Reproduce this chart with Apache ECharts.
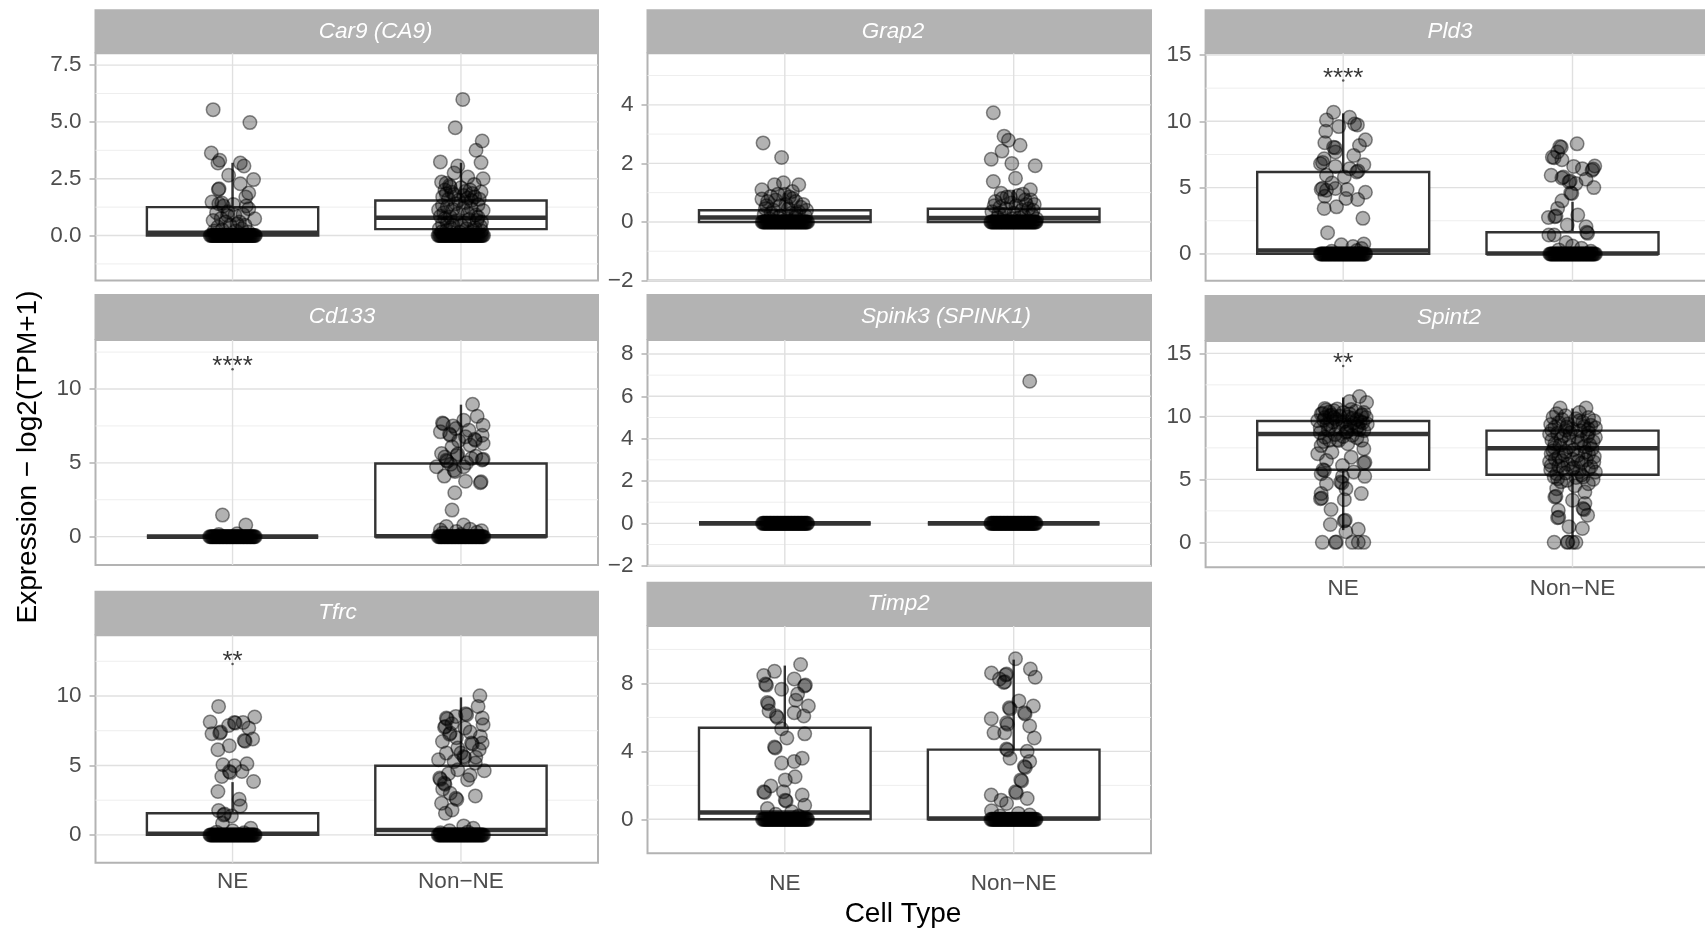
<!DOCTYPE html>
<html>
<head>
<meta charset="utf-8">
<title>Marker expression by cell type</title>
<script src="https://cdn.jsdelivr.net/npm/echarts@6/dist/echarts.min.js"></script>
<style>
  html, body { margin: 0; padding: 0; background: #ffffff; }
  #chart { width: 1705px; height: 930px; }
</style>
</head>
<body>
<div id="chart"></div>
<script>
// ---------------------------------------------------------------------------
// Data
// ---------------------------------------------------------------------------
const categories = ['NE', 'Non\u2212NE'];
const genes = ['Car9 (CA9)', 'Grap2', 'Pld3', 'Cd133', 'Spink3 (SPINK1)', 'Spint2', 'Tfrc', 'Timp2'];

// y-axis extents of each facet
const car9Range = [-1.98, 8.02];
const grap2Range = [-2, 5.76];
const pld3Range = [-2.03, 15.13];
const cd133Range = [-1.92, 13.32];
const spink3Range = [-2, 8.66];
const spint2Range = [-1.98, 15.98];
const tfrcRange = [-2, 14.37];
const timp2Range = [-2, 11.38];

// labelled (major) ticks, their labels, and minor grid positions
const car9Ticks = [0, 2.5, 5, 7.5];
const car9TickLabels = ['0.0', '2.5', '5.0', '7.5'];
const car9Minor = [-1.25, 1.25, 3.75, 6.25];
const grap2Ticks = [-2, 0, 2, 4];
const grap2TickLabels = ['\u22122', '0', '2', '4'];
const grap2Minor = [-1, 1, 3, 5];
const pld3Ticks = [0, 5, 10, 15];
const pld3TickLabels = ['0', '5', '10', '15'];
const pld3Minor = [2.5, 7.5, 12.5];
const cd133Ticks = [0, 5, 10];
const cd133TickLabels = ['0', '5', '10'];
const cd133Minor = [2.5, 7.5, 12.5];
const spink3Ticks = [-2, 0, 2, 4, 6, 8];
const spink3TickLabels = ['\u22122', '0', '2', '4', '6', '8'];
const spink3Minor = [-1, 1, 3, 5, 7];
const spint2Ticks = [0, 5, 10, 15];
const spint2TickLabels = ['0', '5', '10', '15'];
const spint2Minor = [2.5, 7.5, 12.5];
const tfrcTicks = [0, 5, 10];
const tfrcTickLabels = ['0', '5', '10'];
const tfrcMinor = [2.5, 7.5, 12.5];
const timp2Ticks = [0, 4, 8];
const timp2TickLabels = ['0', '4', '8'];
const timp2Minor = [2, 6, 10];

// box summaries: [lower whisker, Q1, median, Q3, upper whisker] for NE, Non-NE
const car9Box = [[0, 0, 0.12, 1.25, 3.2], [0, 0.28, 0.78, 1.54, 3.2]];
const grap2Box = [[0, 0, 0.15, 0.4, 1.0], [0, 0, 0.13, 0.45, 1.1]];
const pld3Box = [[0, 0, 0.25, 6.18, 10.6], [0, 0, 0.03, 1.63, 3.93]];
const cd133Box = [[0, 0, 0, 0, 0], [0, 0, 0.03, 4.95, 8.94]];
const spink3Box = [[0, 0, 0, 0, 0], [0, 0, 0, 0, 0]];
const spint2Box = [[0.97, 5.76, 8.6, 9.63, 11.5], [0.3, 5.37, 7.47, 8.87, 10.63]];
const tfrcBox = [[0, 0, 0.08, 1.56, 3.8], [0, 0, 0.35, 4.98, 9.9]];
const timp2Box = [[0, 0, 0.4, 5.39, 9.05], [0, 0, 0.05, 4.1, 9.4]];

// individual samples: [horizontal jitter, expression]
const car9NEPts = [[-0.085,5.54],[0.076,4.97],[-0.093,3.63],[-0.056,3.31],[-0.064,3.19],[0.034,3.19],[0.05,3.06],[-0.017,2.65],[0.092,2.46],[0.034,2.28],[-0.059,2.06],[-0.062,2.02],[0.071,1.87],[0.058,1.69],[-0.09,1.47],[-0.047,1.43],[-0.06,1.4],[0.003,1.37],[0.071,1.18],[0.046,0.93],[-0.022,0.88],[0.097,0.74],[-0.085,0.66],[-0.064,0.37],[0.02,0.51],[-0.03,0.6],[0.04,0.3],[-0.08,0.2],[0.07,0.15],[-0.04,1.3],[-0.02,1.05],[0.01,0.9],[-0.05,0.75],[0.03,0.6],[-0.01,0.45],[0.055,0.45],[-0.045,0.25],[0.015,0.2],[-0.07,1.0],[0.06,1.3]];
const car9NonPts = [[0.008,5.99],[-0.025,4.74],[0.093,4.16],[0.066,3.75],[0.088,3.21],[-0.09,3.24],[-0.014,3.06],[-0.03,2.75],[0.097,2.5],[-0.085,2.35],[0.03,2.57],[-0.047,2.13],[0.058,2.25],[0.088,1.91],[-0.064,1.84],[0.012,1.76],[0.046,1.54],[-0.081,1.32],[-0.022,1.4],[0.097,1.1],[-0.098,1.13],[0.03,0.96],[-0.047,0.81],[0.071,0.66],[-0.081,0.51],[0.003,0.44],[0.054,0.22],[-0.064,0.22],[-0.07,2.0],[-0.055,1.6],[0.02,1.95],[0.075,1.35],[-0.035,1.15],[0.065,0.9],[-0.09,0.85],[0.01,1.2],[-0.02,0.65],[0.085,0.4],[-0.045,0.35],[0.035,0.7],[0.06,1.7],[-0.075,1.0],[0.04,2.0],[-0.01,1.55],[0.09,0.6],[-0.06,0.55],[0.025,0.3],[-0.095,0.3],[-0.05,2.2],[0.0,2.1],[0.05,1.85],[-0.08,1.7],[-0.03,1.8],[0.08,1.6],[0.02,1.45],[-0.06,1.25],[0.045,1.2],[-0.015,0.95],[0.075,0.8],[-0.07,0.75],[0.015,0.55],[-0.035,0.45],[0.06,0.35],[-0.085,0.15],[0.035,0.1],[-0.005,0.15],[0.09,0.2],[-0.04,1.9],[0.03,1.65],[-0.065,2.3]];
const grap2NEPts = [[-0.095,2.7],[-0.014,2.2],[-0.1,1.1],[-0.045,1.27],[-0.006,1.34],[0.061,1.27],[0.033,1.04],[-0.1,0.78],[0.048,0.7],[-0.061,0.87],[-0.03,0.95],[0.02,0.85],[0.08,0.6],[-0.08,0.55],[0.005,0.6],[-0.05,0.4],[0.06,0.35],[0.09,0.2],[-0.09,0.25],[0.03,0.3],[-0.02,0.2],[0.045,0.15],[-0.065,0.1],[-0.075,0.7],[-0.04,0.75],[0.0,0.95],[0.035,0.8],[0.07,0.5],[-0.02,0.55],[0.015,0.45],[-0.06,0.3],[0.05,0.3],[-0.085,0.45],[0.095,0.4],[-0.03,0.15],[0.01,0.1]];
const grap2NonPts = [[-0.089,3.73],[-0.042,2.93],[-0.023,2.79],[0.028,2.62],[-0.051,2.42],[-0.098,2.14],[-0.008,2.0],[0.094,1.92],[-0.089,1.38],[0.008,1.49],[0.073,1.1],[-0.055,0.98],[-0.03,0.85],[0.02,0.9],[0.05,0.75],[-0.08,0.7],[0.09,0.6],[-0.01,0.65],[0.065,0.45],[-0.06,0.5],[0.035,0.4],[-0.095,0.35],[0.0,0.3],[0.08,0.25],[-0.04,0.25],[0.1,0.1],[-0.07,0.15],[0.025,0.15],[-0.05,0.8],[0.04,0.95],[-0.015,0.85],[0.075,0.75],[-0.085,0.55],[0.01,0.55],[0.055,0.6],[-0.035,0.45],[0.085,0.4],[-0.065,0.3],[0.045,0.2],[-0.01,0.1]];
const pld3NEPts = [[-0.042,10.68],[-0.073,10.1],[0.028,10.3],[0.062,9.73],[0.05,9.8],[-0.019,9.6],[-0.076,9.25],[0.097,8.6],[-0.08,8.38],[-0.042,8.05],[-0.035,8.0],[0.071,8.18],[-0.034,7.68],[0.046,7.43],[-0.083,7.18],[-0.099,6.8],[-0.09,6.9],[0.09,6.73],[-0.034,6.6],[0.028,6.43],[0.059,6.18],[0.065,6.25],[-0.073,5.93],[0.005,5.8],[-0.049,5.35],[-0.096,4.88],[-0.09,4.95],[-0.073,4.8],[-0.034,4.93],[0.017,4.85],[0.097,4.65],[-0.08,4.35],[0.012,4.18],[0.063,4.1],[-0.083,3.43],[-0.029,3.55],[0.086,2.68],[-0.068,1.6],[-0.008,0.68],[0.09,0.75],[0.043,0.55],[0.08,0.4],[0.06,0.25],[-0.05,0.2]];
const pld3NonPts = [[0.02,8.3],[-0.049,8.05],[-0.055,8.1],[-0.065,7.68],[-0.088,7.3],[-0.08,7.25],[-0.046,7.1],[0.005,6.6],[0.097,6.63],[0.085,6.3],[0.09,6.4],[0.043,6.43],[-0.093,5.93],[-0.046,5.73],[-0.04,5.8],[0.059,5.63],[-0.015,5.43],[-0.01,5.5],[0.015,5.3],[0.093,5.0],[-0.008,4.6],[-0.003,4.55],[-0.046,4.0],[-0.065,3.43],[-0.105,2.75],[-0.077,2.8],[-0.072,2.85],[0.023,2.93],[-0.023,2.18],[0.059,2.05],[-0.103,1.43],[-0.08,1.43],[0.062,1.63],[0.066,1.55],[-0.028,0.85],[0.039,0.43],[0.0,0.6],[-0.06,0.3],[0.08,0.2]];
const cd133NEPts = [[-0.044,1.46],[0.058,0.79],[0.02,0.2],[-0.06,0.15]];
const cd133NonPts = [[0.051,8.96],[0.071,8.15],[-0.081,7.7],[-0.077,7.65],[0.012,7.88],[0.097,7.55],[-0.022,7.32],[-0.09,7.1],[-0.047,6.87],[-0.05,6.95],[0.02,6.76],[0.093,6.87],[0.063,6.53],[0.06,6.6],[0.097,6.31],[-0.039,6.08],[-0.085,5.63],[-0.014,5.59],[-0.018,5.5],[-0.064,5.18],[-0.06,5.1],[0.046,5.29],[0.097,5.25],[0.093,5.2],[-0.107,4.73],[0.012,4.73],[-0.03,4.5],[-0.026,4.42],[-0.073,4.1],[0.02,3.76],[0.088,3.72],[0.085,3.65],[-0.027,2.97],[-0.039,1.8],[-0.064,0.68],[0.012,0.79],[0.04,0.5],[-0.02,0.35],[0.07,0.3],[-0.08,0.25],[0.0,0.15],[-0.035,7.5],[0.035,7.2],[-0.01,6.5],[0.04,6.2],[-0.07,5.4],[0.025,5.0],[-0.045,4.9],[0.065,5.45],[-0.09,0.45],[0.09,0.4]];
const spink3NEPts = [];
const spink3NonPts = [[0.07,6.71]];
const spint2NEPts = [[0.071,11.58],[0.102,11.1],[0.028,11.18],[-0.08,10.63],[-0.026,10.58],[-0.096,10.18],[-0.09,10.25],[-0.057,10.05],[-0.05,10.1],[0.082,10.13],[0.078,10.05],[0.028,10.18],[-0.111,9.66],[-0.003,9.53],[0.005,9.6],[0.105,9.39],[0.059,9.13],[0.065,9.2],[-0.065,8.92],[0.012,8.74],[0.018,8.8],[0.09,8.87],[-0.08,8.34],[-0.019,8.08],[-0.025,8.15],[0.02,7.82],[-0.096,7.68],[0.09,7.42],[-0.049,7.16],[-0.111,7.03],[0.035,6.76],[-0.073,6.5],[0.09,6.29],[0.095,6.35],[-0.003,6.1],[-0.088,5.76],[-0.082,5.7],[0.046,5.58],[-0.096,5.45],[0.094,5.24],[-0.003,5.24],[-0.073,4.66],[-0.011,4.79],[-0.005,4.72],[0.012,4.26],[-0.096,3.87],[0.079,3.87],[-0.099,3.47],[-0.094,3.52],[0.005,3.39],[-0.053,2.61],[0.009,1.76],[0.004,1.7],[-0.056,1.42],[0.066,1.03],[0.012,0.84],[-0.091,0],[-0.034,0],[-0.03,0.02],[0.04,0],[0.09,0],[0.066,0],[-0.04,9.9],[0.04,9.85],[-0.07,9.4],[0.03,9.3],[-0.1,9.1],[0.0,10.3],[-0.02,9.2],[0.055,10.4],[-0.085,9.7],[0.075,9.6],[-0.06,10.35],[-0.015,10.0],[0.02,9.95],[0.06,9.75],[-0.045,9.55],[0.085,9.5],[-0.03,9.75],[0.045,9.45],[-0.08,9.9],[0.1,9.9],[-0.055,9.25],[0.015,9.1],[0.07,8.95],[-0.1,8.7],[-0.035,8.55],[0.04,8.5],[-0.06,8.1],[0.06,8.3],[0.0,8.4],[-0.085,8.0],[0.08,8.1],[-0.04,10.45],[0.035,10.55],[-0.075,10.5],[0.09,10.3]];
const spint2NonPts = [[-0.054,10.66],[0.059,10.66],[-0.085,9.92],[-0.031,10.05],[0.093,9.66],[0.031,9.66],[-0.077,9.13],[0,9.0],[0.069,9.0],[-0.1,8.6],[-0.039,8.47],[0.1,8.34],[0.039,8.08],[-0.077,7.82],[-0.015,7.55],[0.085,7.42],[-0.093,7.03],[0.023,6.89],[-0.046,6.5],[0.093,6.37],[-0.093,6.1],[0,5.84],[0.1,5.58],[-0.069,5.45],[0.046,5.18],[-0.023,4.92],[0.069,4.66],[-0.069,4.26],[0.054,4.0],[-0.077,3.6],[-0.072,3.65],[0,3.34],[0.054,3.08],[-0.062,2.55],[0.046,2.68],[0.05,2.6],[0.066,2.16],[-0.065,1.95],[-0.06,2.0],[-0.015,1.24],[0.043,1.1],[-0.08,0],[-0.023,0],[-0.02,0.03],[0,0],[0.015,0],[-0.06,9.5],[0.015,9.8],[0.08,9.3],[-0.02,9.4],[0.05,9.2],[-0.09,8.9],[-0.01,8.7],[0.07,8.7],[-0.05,8.2],[0.02,8.4],[0.09,8.0],[-0.08,7.5],[0.05,7.6],[-0.03,7.2],[0.07,7.0],[-0.06,6.8],[0.0,6.6],[0.04,6.3],[-0.1,6.4],[0.08,6.0],[-0.04,5.9],[0.03,5.6],[-0.08,5.2],[0.09,5.0],[0.01,4.5],[-0.05,4.8],[0.07,9.9],[-0.07,10.2],[0.03,10.3],[-0.03,8.9],[-0.045,9.75],[0.045,9.55],[-0.095,9.35],[0.1,9.1],[-0.025,9.15],[0.035,8.85],[-0.065,8.65],[0.065,8.45],[-0.015,8.25],[-0.09,8.1],[0.025,7.95],[0.075,7.75],[-0.055,7.7],[0.005,7.35],[-0.085,7.25],[0.055,7.15],[-0.035,6.95],[0.095,6.8],[-0.075,6.6],[0.025,6.45],[-0.02,6.2],[0.06,6.55],[-0.06,6.05],[0.005,5.95],[-0.095,5.75],[0.07,5.8],[-0.03,5.5],[0.04,5.35],[-0.065,5.05],[0.015,5.15]];
const tfrcNEPts = [[-0.061,9.25],[-0.098,8.13],[0.097,8.49],[0.008,8.1],[0.012,8.05],[0.046,8.1],[-0.017,7.88],[0.071,7.69],[-0.056,7.33],[-0.052,7.4],[-0.09,7.28],[0.051,6.8],[0.055,6.75],[0.088,6.9],[-0.014,6.42],[-0.064,6.13],[-0.042,5.05],[0.063,5.12],[0.008,4.98],[-0.014,4.57],[-0.01,4.5],[0.041,4.57],[-0.047,4.21],[0.092,3.85],[-0.064,3.13],[0.029,2.57],[0.034,2.09],[-0.061,1.75],[-0.039,1.44],[-0.035,1.5],[-0.005,1.37],[-0.044,0.84],[0.08,0.48],[0.0,0.3],[-0.07,0.2],[0.05,0.15]];
const tfrcNonPts = [[0.083,10.02],[0.075,9.25],[0.093,8.41],[-0.064,8.41],[-0.06,8.35],[0.02,8.73],[0.025,8.65],[-0.022,8.53],[0.097,7.93],[-0.068,7.81],[-0.072,7.75],[0.017,7.69],[0.085,7.09],[-0.047,7.33],[-0.05,7.25],[-0.081,6.73],[0.046,6.61],[0.05,6.55],[0.093,6.61],[-0.014,6.25],[-0.064,5.89],[0.08,6.13],[-0.098,5.41],[0.012,5.65],[0.016,5.58],[-0.03,5.29],[0.063,5.17],[0.102,4.62],[-0.093,4.09],[-0.09,4.0],[-0.014,4.69],[0.029,3.97],[-0.073,3.73],[-0.07,3.65],[-0.047,3.0],[-0.022,2.64],[-0.018,2.55],[0.063,2.81],[-0.085,2.28],[-0.039,1.8],[-0.068,1.56],[0.012,0.65],[0.054,0.48],[-0.05,0.3],[0.03,0.2],[-0.09,0.15],[-0.04,8.0],[0.04,7.4],[-0.02,7.0],[0.065,5.6],[-0.055,4.4],[0.04,4.3],[-0.08,3.3],[0.0,5.9]];
const timp2NEPts = [[0.069,9.11],[-0.045,8.71],[-0.092,8.46],[0.041,8.26],[-0.084,7.96],[-0.08,7.9],[0.09,7.9],[0.086,7.85],[-0.014,7.66],[0.056,7.37],[-0.076,6.87],[-0.072,6.8],[0.048,7.01],[0.103,6.67],[-0.069,6.38],[0.041,6.28],[-0.037,6.08],[-0.033,6.0],[0.083,6.08],[-0.014,5.33],[0.087,5.03],[0.009,4.79],[-0.045,4.26],[-0.042,4.2],[0.076,3.6],[-0.014,3.31],[0.041,3.41],[0.045,2.51],[0.002,2.32],[-0.061,1.96],[-0.092,1.62],[-0.088,1.58],[-0.006,1.62],[0.076,1.43],[0.002,1.13],[0.006,1.08],[0.087,0.83],[-0.076,0.63],[0.03,0.45],[-0.04,0.3],[0.06,0.2]];
const timp2NonPts = [[0.008,9.45],[0.073,8.85],[-0.097,8.61],[-0.031,8.55],[-0.035,8.5],[0.094,8.36],[-0.062,8.26],[-0.039,8.1],[-0.043,8.05],[0.023,6.97],[-0.019,6.57],[-0.015,6.5],[0.086,6.67],[0.047,6.28],[0.05,6.2],[-0.098,5.92],[-0.031,5.68],[-0.027,5.6],[0.07,5.49],[-0.086,5.09],[-0.039,5.09],[0.09,4.79],[-0.031,4.14],[-0.027,4.08],[0.059,4.0],[-0.016,3.6],[0.07,3.41],[0.047,3.11],[0.051,3.05],[0.031,2.32],[0.035,2.26],[-0.098,1.43],[0.008,1.62],[0.012,1.56],[-0.055,1.13],[0.059,1.23],[-0.031,0.93],[-0.097,0.5],[0.02,0.35],[0.07,0.25],[-0.06,0.2]];

// jitter of the samples sitting at zero expression
const car9NEZero = [-0.098,-0.094,-0.09,-0.087,-0.083,-0.079,-0.075,-0.072,-0.068,-0.064,-0.06,-0.057,-0.053,-0.049,-0.045,-0.042,-0.038,-0.034,-0.03,-0.027,-0.023,-0.019,-0.015,-0.012,-0.008,-0.004,0.0,0.003,0.007,0.011,0.015,0.018,0.022,0.026,0.03,0.033,0.037,0.041,0.045,0.048,0.052,0.056,0.06,0.063,0.067,0.071,0.075,0.078,0.082,0.086,0.09,0.093,0.097,0.1];
const car9NonZero = [-0.1,-0.096,-0.092,-0.089,-0.085,-0.081,-0.077,-0.074,-0.07,-0.066,-0.062,-0.059,-0.055,-0.051,-0.047,-0.044,-0.04,-0.036,-0.032,-0.029,-0.025,-0.021,-0.017,-0.014,-0.01,-0.006,-0.002,0.001,0.005,0.009,0.013,0.016,0.02,0.024,0.028,0.031,0.035,0.039,0.043,0.046,0.05,0.054,0.058,0.061,0.065,0.069,0.073,0.076,0.08,0.084,0.088,0.091,0.095,0.099];
const grap2NEZero = [-0.099,-0.095,-0.091,-0.088,-0.084,-0.08,-0.076,-0.073,-0.069,-0.065,-0.061,-0.058,-0.054,-0.05,-0.046,-0.043,-0.039,-0.035,-0.031,-0.028,-0.024,-0.02,-0.016,-0.013,-0.009,-0.005,-0.001,0.002,0.006,0.01,0.014,0.017,0.021,0.025,0.029,0.032,0.036,0.04,0.044,0.047,0.051,0.055,0.059,0.062,0.066,0.07,0.074,0.077,0.081,0.085,0.089,0.092,0.096,0.1];
const grap2NonZero = [-0.1,-0.097,-0.093,-0.089,-0.085,-0.082,-0.078,-0.074,-0.07,-0.067,-0.063,-0.059,-0.055,-0.052,-0.048,-0.044,-0.04,-0.037,-0.033,-0.029,-0.025,-0.022,-0.018,-0.014,-0.01,-0.007,-0.003,0.001,0.005,0.008,0.012,0.016,0.02,0.023,0.027,0.031,0.035,0.038,0.042,0.046,0.05,0.053,0.057,0.061,0.065,0.068,0.072,0.076,0.08,0.083,0.087,0.091,0.095,0.098];
const pld3NEZero = [-0.1,-0.096,-0.093,-0.089,-0.085,-0.081,-0.078,-0.074,-0.07,-0.066,-0.063,-0.059,-0.055,-0.051,-0.048,-0.044,-0.04,-0.036,-0.033,-0.029,-0.025,-0.021,-0.018,-0.014,-0.01,-0.006,-0.003,0.001,0.005,0.009,0.012,0.016,0.02,0.024,0.027,0.031,0.035,0.039,0.042,0.046,0.05,0.054,0.057,0.061,0.065,0.069,0.072,0.076,0.08,0.084,0.087,0.091,0.095,0.098];
const pld3NonZero = [-0.099,-0.095,-0.092,-0.088,-0.084,-0.08,-0.077,-0.073,-0.069,-0.065,-0.062,-0.058,-0.054,-0.05,-0.047,-0.043,-0.039,-0.035,-0.032,-0.028,-0.024,-0.02,-0.017,-0.013,-0.009,-0.005,-0.002,0.002,0.006,0.01,0.013,0.017,0.021,0.025,0.028,0.032,0.036,0.04,0.043,0.047,0.051,0.055,0.058,0.062,0.066,0.07,0.073,0.077,0.081,0.085,0.088,0.092,0.096,0.1];
const cd133NEZero = [-0.1,-0.096,-0.092,-0.088,-0.085,-0.081,-0.077,-0.073,-0.07,-0.066,-0.062,-0.058,-0.055,-0.051,-0.047,-0.043,-0.04,-0.036,-0.032,-0.028,-0.025,-0.021,-0.017,-0.013,-0.01,-0.006,-0.002,0.002,0.005,0.009,0.013,0.017,0.02,0.024,0.028,0.032,0.035,0.039,0.043,0.047,0.05,0.054,0.058,0.062,0.065,0.069,0.073,0.077,0.08,0.084,0.088,0.092,0.095,0.099];
const cd133NonZero = [-0.099,-0.095,-0.091,-0.087,-0.084,-0.08,-0.076,-0.072,-0.069,-0.065,-0.061,-0.057,-0.054,-0.05,-0.046,-0.042,-0.039,-0.035,-0.031,-0.027,-0.024,-0.02,-0.016,-0.012,-0.009,-0.005,-0.001,0.003,0.006,0.01,0.014,0.018,0.021,0.025,0.029,0.033,0.036,0.04,0.044,0.048,0.051,0.055,0.059,0.063,0.066,0.07,0.074,0.078,0.081,0.085,0.089,0.093,0.096,0.1];
const spink3NEZero = [-0.098,-0.094,-0.091,-0.087,-0.083,-0.079,-0.076,-0.072,-0.068,-0.064,-0.061,-0.057,-0.053,-0.049,-0.046,-0.042,-0.038,-0.034,-0.031,-0.027,-0.023,-0.019,-0.016,-0.012,-0.008,-0.004,-0.001,0.003,0.007,0.011,0.014,0.018,0.022,0.026,0.029,0.033,0.037,0.041,0.044,0.048,0.052,0.056,0.059,0.063,0.067,0.071,0.074,0.078,0.082,0.086,0.089,0.093,0.097,0.1];
const spink3NonZero = [-0.1,-0.097,-0.093,-0.089,-0.086,-0.082,-0.078,-0.074,-0.071,-0.067,-0.063,-0.059,-0.056,-0.052,-0.048,-0.044,-0.041,-0.037,-0.033,-0.029,-0.026,-0.022,-0.018,-0.014,-0.011,-0.007,-0.003,0.001,0.004,0.008,0.012,0.016,0.019,0.023,0.027,0.031,0.034,0.038,0.042,0.046,0.049,0.053,0.057,0.061,0.064,0.068,0.072,0.076,0.079,0.083,0.087,0.091,0.094,0.098];
const spint2NEZero = [];
const spint2NonZero = [];
const tfrcNEZero = [-0.099,-0.096,-0.092,-0.088,-0.084,-0.081,-0.077,-0.073,-0.069,-0.066,-0.062,-0.058,-0.054,-0.051,-0.047,-0.043,-0.039,-0.036,-0.032,-0.028,-0.024,-0.021,-0.017,-0.013,-0.009,-0.006,-0.002,0.002,0.006,0.009,0.013,0.017,0.021,0.024,0.028,0.032,0.036,0.039,0.043,0.047,0.051,0.054,0.058,0.062,0.066,0.069,0.073,0.077,0.081,0.084,0.088,0.092,0.096,0.099];
const tfrcNonZero = [-0.1,-0.096,-0.092,-0.089,-0.085,-0.081,-0.077,-0.074,-0.07,-0.066,-0.062,-0.059,-0.055,-0.051,-0.047,-0.044,-0.04,-0.036,-0.032,-0.029,-0.025,-0.021,-0.017,-0.014,-0.01,-0.006,-0.002,0.001,0.005,0.009,0.013,0.016,0.02,0.024,0.028,0.031,0.035,0.039,0.043,0.046,0.05,0.054,0.058,0.061,0.065,0.069,0.073,0.076,0.08,0.084,0.088,0.091,0.095,0.099];
const timp2NEZero = [-0.098,-0.094,-0.09,-0.087,-0.083,-0.079,-0.075,-0.072,-0.068,-0.064,-0.06,-0.057,-0.053,-0.049,-0.045,-0.042,-0.038,-0.034,-0.03,-0.027,-0.023,-0.019,-0.015,-0.012,-0.008,-0.004,0.0,0.003,0.007,0.011,0.015,0.018,0.022,0.026,0.03,0.033,0.037,0.041,0.045,0.048,0.052,0.056,0.06,0.063,0.067,0.071,0.075,0.078,0.082,0.086,0.09,0.093,0.097,0.1];
const timp2NonZero = [-0.1,-0.096,-0.093,-0.089,-0.085,-0.081,-0.078,-0.074,-0.07,-0.066,-0.063,-0.059,-0.055,-0.051,-0.048,-0.044,-0.04,-0.036,-0.033,-0.029,-0.025,-0.021,-0.018,-0.014,-0.01,-0.006,-0.003,0.001,0.005,0.009,0.012,0.016,0.02,0.024,0.027,0.031,0.035,0.039,0.042,0.046,0.05,0.054,0.057,0.061,0.065,0.069,0.072,0.076,0.08,0.084,0.087,0.091,0.095,0.098];

// significance marks above the NE group: facet index, text, anchor value
const sigFacets = [2, 3, 5, 6];
const sigText = ['****', '****', '**', '**'];
const sigY = [13.07, 11.34, 13.99, 12.3];

// ---------------------------------------------------------------------------
// Facet assembly
// ---------------------------------------------------------------------------
const facets = [
  { range: car9Range, ticks: car9Ticks, labels: car9TickLabels, minor: car9Minor, box: car9Box, pts: [car9NEPts, car9NonPts], zero: [car9NEZero, car9NonZero] },
  { range: grap2Range, ticks: grap2Ticks, labels: grap2TickLabels, minor: grap2Minor, box: grap2Box, pts: [grap2NEPts, grap2NonPts], zero: [grap2NEZero, grap2NonZero] },
  { range: pld3Range, ticks: pld3Ticks, labels: pld3TickLabels, minor: pld3Minor, box: pld3Box, pts: [pld3NEPts, pld3NonPts], zero: [pld3NEZero, pld3NonZero] },
  { range: cd133Range, ticks: cd133Ticks, labels: cd133TickLabels, minor: cd133Minor, box: cd133Box, pts: [cd133NEPts, cd133NonPts], zero: [cd133NEZero, cd133NonZero] },
  { range: spink3Range, ticks: spink3Ticks, labels: spink3TickLabels, minor: spink3Minor, box: spink3Box, pts: [spink3NEPts, spink3NonPts], zero: [spink3NEZero, spink3NonZero] },
  { range: spint2Range, ticks: spint2Ticks, labels: spint2TickLabels, minor: spint2Minor, box: spint2Box, pts: [spint2NEPts, spint2NonPts], zero: [spint2NEZero, spint2NonZero] },
  { range: tfrcRange, ticks: tfrcTicks, labels: tfrcTickLabels, minor: tfrcMinor, box: tfrcBox, pts: [tfrcNEPts, tfrcNonPts], zero: [tfrcNEZero, tfrcNonZero] },
  { range: timp2Range, ticks: timp2Ticks, labels: timp2TickLabels, minor: timp2Minor, box: timp2Box, pts: [timp2NEPts, timp2NonPts], zero: [timp2NEZero, timp2NonZero] }
];

// panel geometry in pixels (plot area, strip height, strip text centre, x labels)
const facetLayout = [
  { left: 95.5, top: 53.3, width: 502.5, height: 227.2, strip: 44, textX: 375.6, showX: false },
  { left: 647.5, top: 53.3, width: 503.5, height: 227.2, strip: 44, textX: 893, showX: false },
  { left: 1205.6, top: 53.3, width: 504.5, height: 227.5, strip: 44, textX: 1450, showX: false },
  { left: 95.5, top: 340, width: 502.5, height: 225, strip: 46, textX: 342, showX: false },
  { left: 647.5, top: 340, width: 503.5, height: 225.7, strip: 46, textX: 946, showX: false },
  { left: 1205.6, top: 341, width: 504.5, height: 226.3, strip: 46, textX: 1449, showX: true, margin: 10 },
  { left: 95.5, top: 635.3, width: 502.5, height: 227.4, strip: 44.6, textX: 337.5, showX: true, margin: 8 },
  { left: 647.5, top: 626, width: 503.5, height: 227.3, strip: 44.3, textX: 898.6, showX: true, margin: 19 }
];

const FONT = '"Liberation Sans", Arial, Helvetica, sans-serif';
const GREY = '#b3b3b3';
const BOX_COLOR = '#333333';
const BOX_HALF = 0.375;

const grids = [], xAxes = [], yAxes = [], series = [], graphics = [];

facets.forEach((f, i) => {
  const L = facetLayout[i];
  grids.push({
    left: L.left, top: L.top, width: L.width, height: L.height,
    show: true, backgroundColor: '#ffffff', borderColor: GREY, borderWidth: 2,
    containLabel: false, outerBoundsMode: 'none'
  });

  xAxes.push({
    type: 'value', gridIndex: i, min: 0.4, max: 2.6,
    axisLine: { show: false },
    axisTick: { show: L.showX, customValues: [1, 2], length: 6, lineStyle: { color: GREY, width: 1.5 } },
    axisLabel: {
      show: L.showX, customValues: [1, 2], margin: L.margin || 8,
      formatter: v => categories[Math.round(v) - 1] || '',
      color: '#4d4d4d', fontSize: 22.5, fontFamily: FONT
    },
    splitLine: { show: false }
  });

  yAxes.push({
    type: 'value', gridIndex: i, min: f.range[0], max: f.range[1],
    axisLine: { show: false },
    axisTick: { show: true, customValues: f.ticks, length: 6, lineStyle: { color: GREY, width: 1.5 } },
    axisLabel: {
      customValues: f.ticks, margin: 14,
      formatter: v => {
        const k = f.ticks.findIndex(t => Math.abs(t - v) < 1e-6);
        return k >= 0 ? f.labels[k] : '';
      },
      color: '#4d4d4d', fontSize: 22.5, fontFamily: FONT
    },
    splitLine: { show: false }
  });

  // horizontal grid lines (minor first, then major)
  series.push({
    type: 'custom', xAxisIndex: i, yAxisIndex: i, silent: true, z: 1,
    data: f.minor.map(v => [v, 0]).concat(f.ticks.map(v => [v, 1])),
    renderItem: (params, api) => {
      const cs = params.coordSys;
      const y = api.coord([1, api.value(0)])[1];
      return {
        type: 'line',
        shape: { x1: cs.x, y1: y, x2: cs.x + cs.width, y2: y },
        style: { stroke: api.value(1) ? '#e0e0e0' : '#eeeeee', lineWidth: api.value(1) ? 1.4 : 1 }
      };
    }
  });

  // vertical grid lines at the two cell types
  series.push({
    type: 'custom', xAxisIndex: i, yAxisIndex: i, silent: true, z: 1,
    data: categories.map((c, k) => [k + 1]),
    renderItem: (params, api) => {
      const cs = params.coordSys;
      const x = api.coord([api.value(0), 0])[0];
      return {
        type: 'line',
        shape: { x1: x, y1: cs.y, x2: x, y2: cs.y + cs.height },
        style: { stroke: '#e0e0e0', lineWidth: 1.4 }
      };
    }
  });

  // boxes with whiskers
  series.push({
    type: 'custom', xAxisIndex: i, yAxisIndex: i, silent: true, z: 3,
    data: f.box.map((b, k) => [k + 1].concat(b)),
    renderItem: (params, api) => {
      const c = api.value(0);
      const lo = api.coord([c, api.value(1)]);
      const q1 = api.coord([c - BOX_HALF, api.value(2)]);
      const med = api.coord([c - BOX_HALF, api.value(3)]);
      const q3 = api.coord([c - BOX_HALF, api.value(4)]);
      const hi = api.coord([c, api.value(5)]);
      const right = api.coord([c + BOX_HALF, 0])[0];
      const lineStyle = { stroke: BOX_COLOR, lineWidth: 2.4 };
      return {
        type: 'group',
        children: [
          { type: 'line', shape: { x1: hi[0], y1: q3[1], x2: hi[0], y2: hi[1] }, style: lineStyle },
          { type: 'line', shape: { x1: lo[0], y1: q1[1], x2: lo[0], y2: lo[1] }, style: lineStyle },
          { type: 'rect', shape: { x: q3[0], y: q3[1], width: right - q3[0], height: q1[1] - q3[1] },
            style: { fill: '#ffffff', stroke: BOX_COLOR, lineWidth: 2.4 } },
          { type: 'line', shape: { x1: med[0], y1: med[1], x2: right, y2: med[1] },
            style: { stroke: BOX_COLOR, lineWidth: 4.6 } }
        ]
      };
    }
  });

  // jittered samples
  const pts = [];
  f.pts.forEach((group, k) => group.forEach(p => pts.push([k + 1 + p[0], p[1]])));
  f.zero.forEach((group, k) => group.forEach(dx => pts.push([k + 1 + dx, 0])));
  series.push({
    type: 'scatter', xAxisIndex: i, yAxisIndex: i, silent: true, z: 4,
    symbol: 'circle', symbolSize: 13.5, large: false, progressive: 0,
    itemStyle: { color: 'rgba(0,0,0,0.3)', borderColor: 'rgba(0,0,0,0.45)', borderWidth: 1.5, opacity: 1 },
    data: pts
  });

  // strip
  graphics.push({
    type: 'rect', silent: true,
    shape: { x: L.left - 1, y: L.top - L.strip, width: L.width + 2, height: L.strip },
    style: { fill: GREY }
  });
  graphics.push({
    type: 'text', silent: true,
    x: L.textX, y: L.top - L.strip / 2,
    style: {
      text: genes[i], fill: '#ffffff', fontSize: 22.5, fontStyle: 'italic', fontFamily: FONT,
      align: 'center', verticalAlign: 'middle'
    }
  });
});

// significance marks
sigFacets.forEach((fi, k) => {
  series.push({
    type: 'scatter', xAxisIndex: fi, yAxisIndex: fi, silent: true, z: 6,
    symbol: 'circle', symbolSize: 2.5,
    itemStyle: { color: '#333333' },
    label: {
      show: true, position: 'inside', offset: [0, -2], formatter: () => sigText[k],
      color: '#000000', fontSize: 26, fontFamily: FONT
    },
    data: [[1, sigY[k]]]
  });
});

// axis titles
graphics.push({
  type: 'text', silent: true, x: 28, y: 457, rotation: Math.PI / 2,
  style: {
    text: 'Expression \u2212 log2(TPM+1)', fill: '#000000', fontSize: 28, fontFamily: FONT,
    align: 'center', verticalAlign: 'middle'
  }
});
graphics.push({
  type: 'text', silent: true, x: 903, y: 914,
  style: {
    text: 'Cell Type', fill: '#000000', fontSize: 28, fontFamily: FONT,
    align: 'center', verticalAlign: 'middle'
  }
});

const chart = echarts.init(document.getElementById('chart'), null, { renderer: 'canvas' });
chart.setOption({
  backgroundColor: '#ffffff',
  animation: false,
  grid: grids,
  xAxis: xAxes,
  yAxis: yAxes,
  series: series,
  graphic: { elements: graphics }
});
</script>
</body>
</html>
